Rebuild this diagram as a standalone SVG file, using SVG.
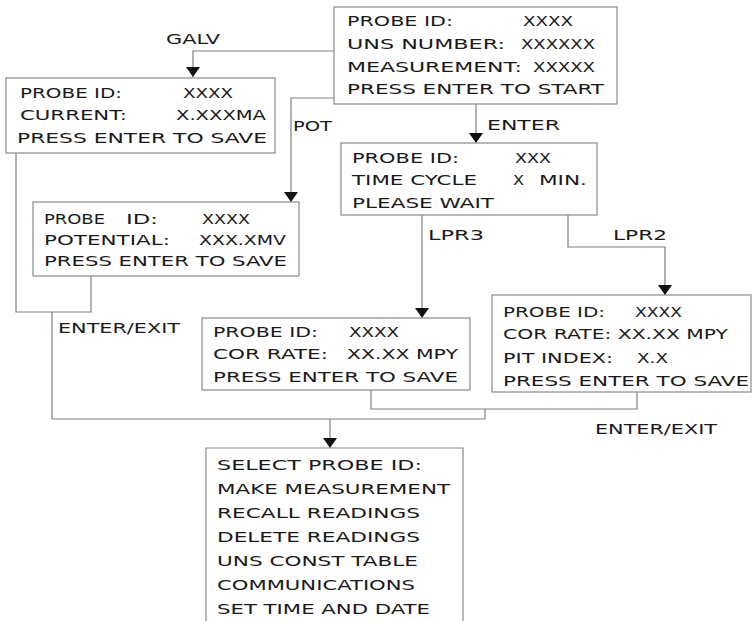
<svg xmlns="http://www.w3.org/2000/svg" width="752" height="621" viewBox="0 0 752 621">
<style>
  text { font-family: "DejaVu Sans", "Liberation Sans", sans-serif; font-size: 13.5px; fill: #1a1a1a; }
  .box { fill: #ffffff; stroke: #8a8a8a; stroke-width: 1.2; }
  .wire { fill: none; stroke: #808080; stroke-width: 1.2; }
</style>
<defs>
  <marker id="arr" markerUnits="userSpaceOnUse" markerWidth="10" markerHeight="14" refX="10" refY="7" orient="auto">
    <path d="M0,0 L10,7 L0,14 Z" fill="#111"/>
  </marker>
</defs>
<rect width="752" height="621" fill="#ffffff"/>

<g id="connectors">
  <path class="wire" d="M334,51 H193 V77" marker-end="url(#arr)"/>
  <path class="wire" d="M334,98 H291 V202" marker-end="url(#arr)"/>
  <path class="wire" d="M476,104 V143" marker-end="url(#arr)"/>
  <path class="wire" d="M422,215 V318" marker-end="url(#arr)"/>
  <path class="wire" d="M568,215 V247 H665 V295" marker-end="url(#arr)"/>
  <path class="wire" d="M16,153 V312 H91 V276"/>
  <path class="wire" d="M52,312 V419 H485"/>
  <path class="wire" d="M371,390 V409 H637 V392"/>
  <path class="wire" d="M485,409 V419"/>
  <path class="wire" d="M330,419 V448" marker-end="url(#arr)"/>
  <text x="166" y="44" textLength="54" lengthAdjust="spacingAndGlyphs">GALV</text>
  <text x="293" y="131" textLength="39" lengthAdjust="spacingAndGlyphs">POT</text>
  <text x="487" y="130" textLength="73" lengthAdjust="spacingAndGlyphs">ENTER</text>
  <text x="428" y="240" textLength="56" lengthAdjust="spacingAndGlyphs">LPR3</text>
  <text x="613" y="240" textLength="54" lengthAdjust="spacingAndGlyphs">LPR2</text>
  <text x="58" y="333" textLength="122" lengthAdjust="spacingAndGlyphs">ENTER/EXIT</text>
  <text x="595" y="434" textLength="122" lengthAdjust="spacingAndGlyphs">ENTER/EXIT</text>
</g>

<g id="n-start">
  <rect class="box" x="334" y="7" width="283" height="97"/>
  <text x="347" y="26" textLength="106" lengthAdjust="spacingAndGlyphs">PROBE ID:</text>
  <text x="523" y="26" textLength="50" lengthAdjust="spacingAndGlyphs">XXXX</text>
  <text x="347" y="49" textLength="158" lengthAdjust="spacingAndGlyphs">UNS NUMBER:</text>
  <text x="521" y="49" textLength="74" lengthAdjust="spacingAndGlyphs">XXXXXX</text>
  <text x="347" y="72" textLength="175" lengthAdjust="spacingAndGlyphs">MEASUREMENT:</text>
  <text x="533" y="72" textLength="62" lengthAdjust="spacingAndGlyphs">XXXXX</text>
  <text x="347" y="94" textLength="257" lengthAdjust="spacingAndGlyphs">PRESS ENTER TO START</text>
</g>

<g id="n-galv">
  <rect class="box" x="6" y="78" width="269" height="75"/>
  <text x="20" y="98" textLength="102" lengthAdjust="spacingAndGlyphs">PROBE ID:</text>
  <text x="183" y="98" textLength="50" lengthAdjust="spacingAndGlyphs">XXXX</text>
  <text x="20" y="120" textLength="107" lengthAdjust="spacingAndGlyphs">CURRENT:</text>
  <text x="176" y="120" textLength="90" lengthAdjust="spacingAndGlyphs">X.XXXMA</text>
  <text x="17" y="143" textLength="250" lengthAdjust="spacingAndGlyphs">PRESS ENTER TO SAVE</text>
</g>

<g id="n-pot">
  <rect class="box" x="33" y="202" width="266" height="74"/>
  <text x="44" y="224" textLength="61" lengthAdjust="spacingAndGlyphs">PROBE</text>
  <text x="126" y="224" textLength="32" lengthAdjust="spacingAndGlyphs">ID:</text>
  <text x="202" y="224" textLength="48" lengthAdjust="spacingAndGlyphs">XXXX</text>
  <text x="44" y="245" textLength="126" lengthAdjust="spacingAndGlyphs">POTENTIAL:</text>
  <text x="199" y="245" textLength="87" lengthAdjust="spacingAndGlyphs">XXX.XMV</text>
  <text x="44" y="266" textLength="243" lengthAdjust="spacingAndGlyphs">PRESS ENTER TO SAVE</text>
</g>

<g id="n-wait">
  <rect class="box" x="341" y="143" width="256" height="72"/>
  <text x="352" y="163" textLength="107" lengthAdjust="spacingAndGlyphs">PROBE ID:</text>
  <text x="515" y="163" textLength="36" lengthAdjust="spacingAndGlyphs">XXX</text>
  <text x="352" y="185" textLength="125" lengthAdjust="spacingAndGlyphs">TIME CYCLE</text>
  <text x="513" y="185" textLength="11" lengthAdjust="spacingAndGlyphs">X</text>
  <text x="539" y="185" textLength="48" lengthAdjust="spacingAndGlyphs">MIN.</text>
  <text x="352" y="208" textLength="142" lengthAdjust="spacingAndGlyphs">PLEASE WAIT</text>
</g>

<g id="n-lpr3">
  <rect class="box" x="202" y="318" width="268" height="72"/>
  <text x="213" y="337" textLength="105" lengthAdjust="spacingAndGlyphs">PROBE ID:</text>
  <text x="349" y="337" textLength="50" lengthAdjust="spacingAndGlyphs">XXXX</text>
  <text x="213" y="359" textLength="115" lengthAdjust="spacingAndGlyphs">COR RATE:</text>
  <text x="347" y="359" textLength="111" lengthAdjust="spacingAndGlyphs">XX.XX MPY</text>
  <text x="213" y="382" textLength="245" lengthAdjust="spacingAndGlyphs">PRESS ENTER TO SAVE</text>
</g>

<g id="n-lpr2">
  <rect class="box" x="492" y="295" width="259" height="97"/>
  <text x="503" y="317" textLength="102" lengthAdjust="spacingAndGlyphs">PROBE ID:</text>
  <text x="635" y="317" textLength="47" lengthAdjust="spacingAndGlyphs">XXXX</text>
  <text x="503" y="339" textLength="225" lengthAdjust="spacingAndGlyphs">COR RATE: XX.XX MPY</text>
  <text x="503" y="363" textLength="110" lengthAdjust="spacingAndGlyphs">PIT INDEX:</text>
  <text x="637" y="363" textLength="31" lengthAdjust="spacingAndGlyphs">X.X</text>
  <text x="503" y="386" textLength="246" lengthAdjust="spacingAndGlyphs">PRESS ENTER TO SAVE</text>
</g>

<g id="n-menu">
  <path class="box" d="M206,621 V448 H463 V621"/>
  <text x="217" y="470" textLength="205" lengthAdjust="spacingAndGlyphs">SELECT PROBE ID:</text>
  <text x="217" y="494" textLength="233" lengthAdjust="spacingAndGlyphs">MAKE MEASUREMENT</text>
  <text x="217" y="518" textLength="203" lengthAdjust="spacingAndGlyphs">RECALL READINGS</text>
  <text x="217" y="542" textLength="203" lengthAdjust="spacingAndGlyphs">DELETE READINGS</text>
  <text x="217" y="566" textLength="201" lengthAdjust="spacingAndGlyphs">UNS CONST TABLE</text>
  <text x="217" y="590" textLength="198" lengthAdjust="spacingAndGlyphs">COMMUNICATIONS</text>
  <text x="217" y="614" textLength="213" lengthAdjust="spacingAndGlyphs">SET TIME AND DATE</text>
</g>
</svg>
